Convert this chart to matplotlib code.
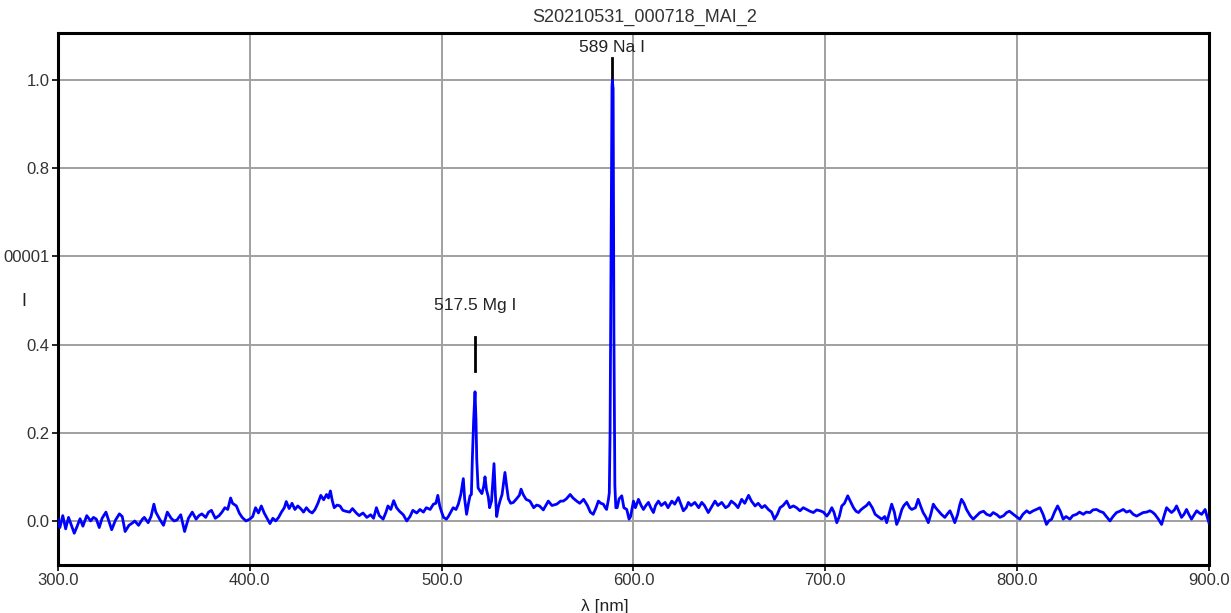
import matplotlib
matplotlib.use('Agg')
import numpy as np
import matplotlib.pyplot as plt

plt.rcParams['font.family'] = ['Liberation Sans', 'DejaVu Sans']

title = 'S20210531_000718_MAI_2'

# spectrum, in four chunks (nm, relative intensity)
wl_uv = [300, 301, 302.5, 304, 305.5, 307, 308.5, 310, 311.5, 313, 315, 317, 318.5, 320, 321.5, 323,
         325, 326.5, 328, 330, 332, 333.5, 335, 337, 339, 340, 342, 344, 345, 347, 348.5, 350, 351,
         353, 355, 357, 359, 360.5, 362, 364, 366, 368, 370, 372, 373.5, 375, 377, 378.5, 380, 382,
         384, 385.5, 387, 388.5, 390, 391, 393, 394.5, 396, 398, 400, 401.5, 403, 404.5, 406, 407.5,
         409, 410.5, 412, 413.5, 415, 416.5, 418, 419, 420.5, 422, 423.5, 425, 426.5, 428, 429.5,
         431, 432.5, 434, 435.5, 437, 438.5, 440, 441, 442, 443, 444, 445.5, 447, 448.5]
i_uv = [0.004, -0.015, 0.012, -0.018, 0.008, -0.01, -0.028, -0.012, 0.005, -0.012, 0.012, 0.0, 0.008,
        0.004, -0.015, 0.006, 0.02, 0.0, -0.02, 0.002, 0.016, 0.01, -0.024, -0.01, -0.004, 0.0, -0.01,
        0.004, 0.008, -0.004, 0.01, 0.038, 0.02, 0.004, -0.01, 0.02, 0.006, 0.0, 0.002, 0.014, -0.024,
        0.006, 0.02, 0.004, 0.012, 0.016, 0.008, 0.02, 0.024, 0.006, 0.012, 0.02, 0.03, 0.026, 0.052,
        0.04, 0.034, 0.018, 0.008, 0.0, 0.004, 0.01, 0.03, 0.018, 0.034, 0.018, 0.006, -0.006, 0.006,
        0.0, 0.008, 0.02, 0.03, 0.044, 0.028, 0.04, 0.026, 0.034, 0.028, 0.02, 0.03, 0.022, 0.018,
        0.026, 0.04, 0.058, 0.048, 0.06, 0.052, 0.068, 0.046, 0.03, 0.036, 0.034, 0.024]

wl_green = [450, 452, 453.5, 455.5, 457, 459, 461, 463, 464.5, 466, 467.5, 469.5, 471, 472, 473.5, 475,
            476.5, 478, 480, 481.8, 483.5, 485, 487, 488.7, 490.5, 492, 494, 495.7, 497, 498, 499, 500,
            501, 502.5, 503.5, 505, 506, 507.5, 508.7, 510, 511.3, 512, 513, 514, 514.8, 515.5, 516.0,
            516.7, 517.4, 517.9, 518.3, 519, 520, 521, 522, 522.6, 523.4, 524.3, 525, 526, 527.3, 528,
            528.7, 529.5, 530.4, 531.5, 533, 534, 534.8, 536, 537.4, 539, 540.5, 541.4, 542.5, 544, 546,
            548, 549.5, 551, 553, 555.6, 557.5, 560, 562, 563.4, 565, 567, 568.5, 570.4, 572, 574, 576,
            577.5, 579, 580.5, 581.7, 583, 584.3, 585.3, 586, 587, 587.4, 587.8, 588.3, 588.8, 589.0,
            589.4, 589.8, 590.3, 590.8, 591.5, 592.5, 593.9, 595, 596.5, 597.7, 598.5]
i_green = [0.022, 0.02, 0.028, 0.018, 0.012, 0.018, 0.008, 0.014, 0.006, 0.03, 0.012, 0.004, 0.02,
           0.034, 0.026, 0.046, 0.03, 0.022, 0.014, 0.0, 0.01, 0.024, 0.018, 0.026, 0.02, 0.03, 0.026,
           0.038, 0.04, 0.058, 0.034, 0.02, 0.008, 0.004, 0.01, 0.022, 0.03, 0.026, 0.038, 0.06, 0.096,
           0.05, 0.015, 0.04, 0.057, 0.06, 0.14, 0.23, 0.293, 0.23, 0.14, 0.075, 0.068, 0.062, 0.08, 0.1,
           0.07, 0.055, 0.03, 0.045, 0.13, 0.06, 0.01, 0.03, 0.045, 0.06, 0.11, 0.075, 0.05, 0.04, 0.042,
           0.05, 0.058, 0.072, 0.06, 0.049, 0.045, 0.03, 0.036, 0.034, 0.025, 0.045, 0.035, 0.038, 0.045,
           0.045, 0.05, 0.06, 0.052, 0.045, 0.04, 0.049, 0.035, 0.02, 0.015, 0.03, 0.045, 0.04, 0.038,
           0.03, 0.026, 0.05, 0.064, 0.2, 0.6, 0.985, 1.0, 0.98, 0.43, 0.08, 0.03, 0.03, 0.05, 0.057,
           0.03, 0.026, 0.004, 0.01]

wl_red = [600, 601, 602.6, 604, 605.2, 606.5, 607.8, 609, 610.4, 611.5, 613, 614.5, 616.5, 618, 620,
          621.5, 623.4, 624.5, 626, 627.5, 628.6, 630, 632, 634, 635.6, 637, 639, 640.5, 642.5, 644,
          646, 648, 649.5, 651, 653, 654.5, 656.4, 658, 660, 661.5, 663.4, 665, 666.9, 668.5, 670.3,
          672, 673.5, 675, 676.4, 678, 679.9, 681.5, 683.4, 685, 686.8, 688.5, 690.3, 692, 693.8,
          695.5, 697.3, 699, 700.8, 702, 703.4, 704.5, 706, 707.3, 708.6, 710, 711.7, 713, 714.7, 716,
          717.3, 718.5, 719.9, 721.5, 722.8, 724.5, 726, 727.5, 729.4, 731, 732, 733.5, 734.6, 736,
          737.2, 738.5, 739.9, 741, 742.5, 744, 745.1, 747, 748.4]
i_red = [0.045, 0.03, 0.049, 0.035, 0.026, 0.035, 0.042, 0.03, 0.019, 0.035, 0.045, 0.035, 0.042, 0.03,
         0.045, 0.038, 0.053, 0.04, 0.023, 0.03, 0.042, 0.035, 0.042, 0.03, 0.042, 0.035, 0.019, 0.03,
         0.045, 0.035, 0.042, 0.03, 0.034, 0.045, 0.038, 0.03, 0.049, 0.04, 0.058, 0.045, 0.034, 0.04,
         0.03, 0.035, 0.026, 0.02, 0.004, 0.015, 0.03, 0.035, 0.045, 0.03, 0.034, 0.03, 0.023, 0.03,
         0.026, 0.022, 0.019, 0.025, 0.023, 0.02, 0.011, 0.018, 0.03, 0.02, -0.004, 0.01, 0.034, 0.04,
         0.057, 0.045, 0.03, 0.022, 0.019, 0.025, 0.03, 0.035, 0.042, 0.03, 0.015, 0.01, 0.004, 0.01,
         -0.004, 0.02, 0.038, 0.02, -0.008, 0.005, 0.026, 0.035, 0.042, 0.03, 0.026, 0.03, 0.049]

wl_nir = [750, 751, 752.5, 753.7, 755, 756.3, 757.5, 758.9, 760.5, 762.3, 763.5, 765, 766.3, 767.5, 769,
          770, 771, 772.3, 773.6, 775.5, 777.1, 779, 780.6, 782.5, 784.1, 786, 787.5, 789.5, 791, 793,
          794.5, 796, 798, 799.5, 801.4, 803, 805, 806.5, 808.4, 810, 811.9, 813.5, 815.3, 816.5, 818,
          819.5, 821.1, 822.5, 824, 825.5, 827.5, 829, 831, 832.5, 834.5, 836, 838, 839.5, 841.4, 843,
          844.9, 846.5, 848.4, 850, 851.8, 853.5, 855.3, 857, 858.8, 860.5, 862.3, 864, 865.7, 867.5,
          869.2, 870.5, 871.8, 873.5, 875.3, 876.5, 877.9, 879, 880.5, 882, 883.1, 884.5, 885.7, 887,
          888.3, 889.5, 890.9, 892, 893.6, 895, 896.2, 897, 898, 899, 900]
i_nir = [0.03, 0.019, 0.008, -0.004, 0.015, 0.038, 0.03, 0.023, 0.015, 0.008, 0.015, 0.023, 0.01,
         -0.004, 0.015, 0.035, 0.049, 0.04, 0.026, 0.012, 0.004, 0.012, 0.019, 0.022, 0.015, 0.012,
         0.019, 0.014, 0.008, 0.012, 0.019, 0.022, 0.015, 0.01, 0.004, 0.015, 0.023, 0.018, 0.023, 0.026,
         0.03, 0.015, -0.008, 0.0, 0.004, 0.02, 0.034, 0.022, 0.004, 0.01, 0.004, 0.012, 0.015, 0.02,
         0.015, 0.02, 0.019, 0.025, 0.026, 0.022, 0.019, 0.01, 0.0, 0.01, 0.019, 0.022, 0.026, 0.02,
         0.023, 0.015, 0.011, 0.015, 0.019, 0.02, 0.023, 0.02, 0.015, 0.005, -0.008, 0.01, 0.03, 0.025,
         0.019, 0.025, 0.034, 0.02, 0.008, 0.015, 0.026, 0.015, 0.004, 0.012, 0.023, 0.018, 0.015, 0.02,
         0.026, 0.01, -0.004]

# identified lines: position, label, marker bottom/top, label height
line_pos = [517.5, 589.0]
line_names = ['517.5 Mg I', '589 Na I']
mark_lo = [0.34, 0.97]
mark_hi = [0.417, 1.05]
label_y = [0.488, 1.075]

xticks = [300, 400, 500, 600, 700, 800, 900]
yticks = [0.0, 0.2, 0.4, 0.6, 0.8, 1.0]
ytick_labels = ['0.0', '0.2', '0.4', '00001', '0.8', '1.0']

wl = np.array(wl_uv + wl_green + wl_red + wl_nir)
inten = np.array(i_uv + i_green + i_red + i_nir)

fig = plt.figure(figsize=(12.31, 6.13), dpi=100)
ax = fig.add_axes([0.0471, 0.0783, 0.935, 0.8679])

for x, name, lo, hi, ty in zip(line_pos, line_names, mark_lo, mark_hi, label_y):
    ax.plot([x, x], [lo, hi], color='black', lw=2, zorder=2)
    ax.text(x, ty, name, ha='center', va='center', fontsize=12.5, color='#222222')

ax.plot(wl, inten, color='#0000ff', lw=2, zorder=3)

ax.set_xlim(300, 900)
ax.set_ylim(-0.1, 1.107)
ax.set_xticks(xticks)
ax.set_xticklabels([f'{t:.1f}' for t in xticks])
ax.set_yticks(yticks)
ax.set_yticklabels(ytick_labels)
ax.grid(True, color='#a0a0a0', lw=1.4)
ax.set_axisbelow(True)
ax.tick_params(labelsize=12, labelcolor='#333333', length=4, width=1.2, pad=2)

for s in ax.spines.values():
    s.set_linewidth(2.2)
    s.set_color('black')

ax.set_title(title, fontsize=13, color='#333333', x=0.51, y=1.005)
ax.set_xlabel('λ [nm]', fontsize=12.5, color='#222222')
ax.xaxis.set_label_coords(0.475, -0.064)
ax.set_ylabel('I', rotation=0, fontsize=13, color='#222222')
ax.yaxis.set_label_coords(-0.03, 0.48)

fig.savefig('out.png', dpi=100)
